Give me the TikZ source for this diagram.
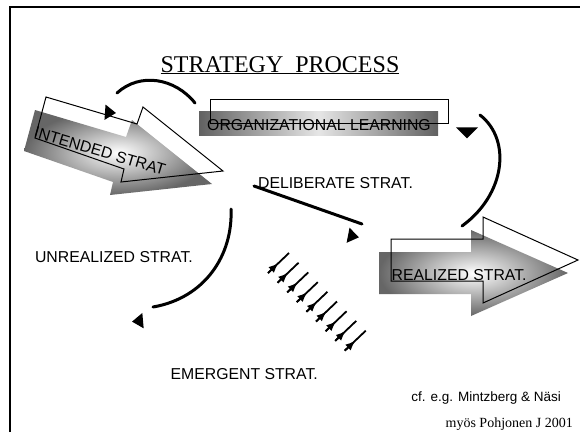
\documentclass[tikz,border=0pt]{standalone}
\usepackage{fontspec}
\setmainfont{Liberation Serif}
\setsansfont{Liberation Sans}
\usetikzlibrary{positioning,shapes.geometric,arrows,arrows.meta}

\tikzset{
  lbl/.style={font=\sffamily\fontsize{15.8bp}{18bp}\selectfont, inner sep=0pt},
  flowline/.style={line width=3bp, line cap=round},
  tri/.style={isosceles triangle, isosceles triangle apex angle=70, fill=black, inner sep=0pt, minimum size=11bp},
  rim/.style={draw=black, line width=1bp},
  glow/.style={inner color=white, outer color=black!60},
}

\begin{document}
\begin{tikzpicture}[x=1bp,y=-1bp]
                \useasboundingbox (0,0) rectangle (580,432);
                \fill[white] (0,0) rectangle (580,432);
                \draw [-,line width=1.3bp] (10,432) -- (10,7) -- (580,7);
                \node[anchor=base,inner sep=0pt] (title) at (280,72) {\fontsize{24bp}{26bp}\selectfont\underline{STRATEGY\ \ PROCESS}};
                % intended strategy arrow
                \shade[glow] (35,110) -- (126,137) -- (132,120) -- (212,184) -- (110,195) -- (113,182) -- (24,151) -- cycle;
                \draw [rim] (46,97) -- (137,124) -- (143,107) -- (223,171) -- (121,182) -- (124,169) -- (35,138) -- cycle;
                \node[lbl,rotate=-16.5] (intended) at (100,151) {INTENDED STRAT};
                % organizational learning
                \shade[left color=black!62,right color=black!62,middle color=black!10] (199,111) rectangle (438,135);
                \draw [rim] (210,99) rectangle (448,123);
                \node[lbl,anchor=base] (orglearn) at (319,130) {ORGANIZATIONAL LEARNING};
                % realized strategy arrow
                \shade[glow] (379,252) -- (471,252) -- (471,230) -- (568,273) -- (471,316) -- (471,294) -- (379,294) -- cycle;
                \draw [rim] (391,239) -- (483,239) -- (483,217) -- (578,260) -- (483,303) -- (483,281) -- (391,281) -- cycle;
                \node[lbl,anchor=base west] (realized) at (391.5,280) {REALIZED STRAT.};
                % texts
                \node[lbl,anchor=base] (delib) at (335.5,188) {DELIBERATE STRAT.};
                \node[lbl,anchor=base east] (unreal) at (193,262) {UNREALIZED STRAT.};
                \node[lbl,anchor=base east] (emerg) at (318,379) {EMERGENT STRAT.};
                \node[anchor=base east,inner sep=0pt,font=\sffamily\fontsize{13.5bp}{15bp}\selectfont] (cite) at (561,401) {cf. e.g. Mintzberg \& Näsi};
                \node[anchor=base east,inner sep=0pt,font=\fontsize{14bp}{16bp}\selectfont] (src) at (573,427) {myös Pohjonen J 2001};
                % curved and straight flows
                \coordinate (a1) at (117,93);
                \coordinate (a2) at (195,103);
                \draw [flowline] (a1) .. controls (140,72) and (175,78) .. (a2);
                \coordinate (b1) at (480,115);
                \coordinate (b2) at (462,226);
                \draw [flowline] (b1) .. controls (512,140) and (505,195) .. (b2);
                \coordinate (c1) at (231,209);
                \coordinate (c2) at (153,307);
                \draw [flowline] (c1) .. controls (233,255) and (205,298) .. (c2);
                \coordinate (d1) at (254,186);
                \coordinate (d2) at (362,224);
                \draw [flowline] (d1) -- (d2);
                % loose arrow tips
                \node[tri,rotate=-4] (tipa) at (109,112.5) {};
                \node[tri,rotate=-90,isosceles triangle apex angle=90] (tipb) at (467,132) {};
                \node[tri,rotate=-11] (tipc) at (352,236) {};
                \node[tri,rotate=185] (tipd) at (139,321) {};
                % emergent strategies
                \foreach \i in {0,...,8} {
                    \draw [line width=1.8bp] (268+9.6*\i,273+9.7*\i) -- ++(21,-20);
                    \draw [-{Latex[length=10bp,width=8bp]},line width=1.8bp] (268+9.6*\i,273+9.7*\i) -- ++(10.5,-10);
                }
            \end{tikzpicture}
\end{document}
